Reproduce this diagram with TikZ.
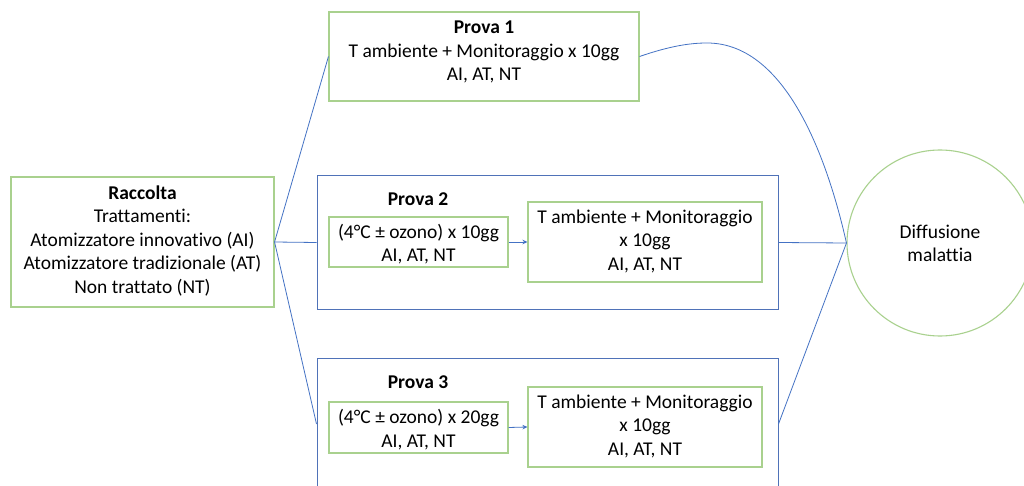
\documentclass[tikz,border=0pt]{standalone}
\usepackage{fontspec}
\setmainfont[Ligatures=NoCommon]{Carlito}
\usetikzlibrary{arrows.meta}
\definecolor{gedge}{HTML}{A9D18E}
\definecolor{bedge}{HTML}{4F72B8}
\definecolor{bline}{HTML}{4472C4}
\begin{document}
\begin{tikzpicture}[x=1pt,y=-1pt,
  font=\fontsize{19.5}{23.5}\selectfont,
  gbox/.style={draw=gedge,line width=1.1pt,inner sep=0pt,align=center,text=black},
  bbox/.style={draw=bedge,line width=1pt,inner sep=0pt},
  conn/.style={draw=bline,line width=0.8pt},
  txt/.style={align=center,inner sep=0pt}]
\useasboundingbox (0,0) rectangle (1024,486);
\clip (0,0) rectangle (1024,486);
\fill[white] (0,0) rectangle (1024,486);

% Raccolta
\node[gbox,minimum width=263pt,minimum height=130pt] (rac) at (142.5,242) {};
\node[txt] at (142.5,241) {\textbf{Raccolta}\\Trattamenti:\\Atomizzatore innovativo (AI)\\Atomizzatore tradizionale (AT)\\Non trattato (NT)};

% Prova 1
\node[gbox,minimum width=310pt,minimum height=89pt] (p1) at (484,56.5) {};
\node[txt] at (484,52) {\textbf{Prova 1}\\T ambiente + Monitoraggio x 10gg\\AI, AT, NT};

% Prova 2
\node[bbox,minimum width=461pt,minimum height=133pt] (p2) at (547.5,242.5) {};
\node[txt] at (418,199) {\textbf{Prova 2}};
\node[gbox,minimum width=179pt,minimum height=50pt] (p2a) at (418.5,242) {};
\node[txt] at (418.5,244) {(4°C ± ozono) x 10gg\\AI, AT, NT};
\node[gbox,minimum width=234pt,minimum height=80pt] (p2b) at (645,242) {};
\node[txt] at (645,241) {T ambiente + Monitoraggio\\x 10gg\\AI, AT, NT};
\draw[conn,-{Stealth[length=5pt,width=4.5pt]}] (p2a.east) -- (p2b.west);

% Prova 3
\node[bbox,minimum width=461pt,minimum height=132pt] (p3) at (547.5,424) {};
\node[txt] at (418,382) {\textbf{Prova 3}};
\node[gbox,minimum width=179pt,minimum height=51pt] (p3a) at (418.5,427.5) {};
\node[txt] at (418.5,429.5) {(4°C ± ozono) x 20gg\\AI, AT, NT};
\node[gbox,minimum width=234pt,minimum height=80pt] (p3b) at (645,427) {};
\node[txt] at (645,426) {T ambiente + Monitoraggio\\x 10gg\\AI, AT, NT};
\draw[conn,-{Stealth[length=5pt,width=4.5pt]}] (p3a.east) -- (p3b.west);

% Diffusione malattia
\node[draw=gedge,line width=1.1pt,circle,minimum size=186pt,inner sep=0pt] (dis) at (940,243) {};
\node[txt] at (940,243.5) {Diffusione\\malattia};

% connectors
\draw[conn] (rac.east) -- (p1.west);
\draw[conn] (rac.east) -- (p2.west);
\draw[conn] (rac.east) -- (p3.west);
\coordinate (peak) at (707,43);
\draw[conn] (p1.east) .. controls (670,46) and (690,43) .. (peak)
  .. controls (790,43) and (830,170) .. (dis.west);
\draw[conn] (p2.east) -- (dis.west);
\draw[conn] (p3.east) -- (dis.west);
\end{tikzpicture}
\end{document}
